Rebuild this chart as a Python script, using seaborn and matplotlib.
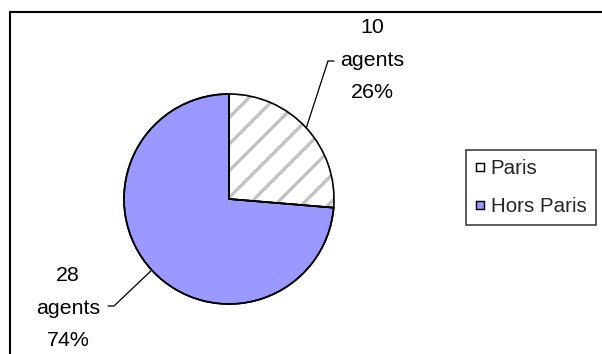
import matplotlib
matplotlib.use("Agg")
import matplotlib.pyplot as plt
from matplotlib.patches import Rectangle, Wedge
from matplotlib.lines import Line2D
import numpy as np
import seaborn as sns

# Répartition des agents
categories = ["Paris", "Hors Paris"]
agents = [10, 28]
percent_labels = ["26%", "74%"]

sns.set_style("white")
plt.rcParams["font.family"] = ["Liberation Sans", "DejaVu Sans"]
plt.rcParams["hatch.color"] = "#c2c2c2"
plt.rcParams["hatch.linewidth"] = 3.0

colors = sns.color_palette(["#ffffff", "#9999ff"])

DPI = 80
W, H = 602, 354
fig = plt.figure(figsize=(W / DPI, H / DPI), dpi=DPI)
fig.patch.set_facecolor("white")

# outer chart frame (runs off the right and bottom edges)
fig.patches.append(Rectangle((9.8 / W, -0.1), 1.2, (H - 12) / H + 0.1,
                             transform=fig.transFigure, fill=False,
                             edgecolor="black", linewidth=1.9, zorder=0))

ax = fig.add_axes([0, 0, 1, 1])
wedges, _ = ax.pie(agents, colors=colors, startangle=90, counterclock=False,
                   radius=1.0, center=(0, 0),
                   wedgeprops=dict(edgecolor="black", linewidth=1.5))

# 105 px per data unit, pie centred at (229, 199) from the top-left corner
R = 105.0
cx, cy = 229.0, H - 199.0
ax.set_xlim(-cx / R, (W - cx) / R)
ax.set_ylim(-cy / R, (H - cy) / R)
ax.set_axis_off()
ax.patch.set_alpha(0)

wedges[0].set_hatch("/")
wedges[0].set_edgecolor("#c2c2c2")
wedges[0].set_linewidth(0)
# black outline on top of the hatched wedge
for w in wedges:
    ax.add_patch(Wedge(w.center, w.r, w.theta1, w.theta2, fill=False,
                       edgecolor="black", linewidth=1.5, zorder=3))

# data labels with leader lines
label_pos = [((372 - cx) / R, (H - 60 - cy) / R),
             ((68 - cx) / R, (H - 308 - cy) / R)]
elbows = [((328 - cx) / R, (H - 61 - cy) / R, (334 - cx) / R),
          ((114 - cx) / R, (H - 306 - cy) / R, (108 - cx) / R)]
for w, n, pct, (tx, ty), (ex, ey, hx) in zip(wedges, agents, percent_labels,
                                             label_pos, elbows):
    mid = np.deg2rad((w.theta1 + w.theta2) / 2)
    px, py = np.cos(mid) * w.r, np.sin(mid) * w.r
    ax.plot([px, ex, hx], [py, ey, ey], color="black", linewidth=1.15,
            solid_joinstyle="miter", zorder=4)
    ax.text(tx, ty, f"{n}\nagents\n{pct}", ha="center", va="center",
            fontsize=19.2, linespacing=1.93, color="black", zorder=5)

handles = [Line2D([], [], linestyle="none", marker="s", markersize=7.2,
                  markerfacecolor=c, markeredgecolor="black",
                  markeredgewidth=1.3) for c in colors]
leg = fig.legend(handles, categories, loc="upper left",
                 bbox_to_anchor=(466 / W, (H - 150) / H),
                 fontsize=18.5, frameon=True, fancybox=False, shadow=False,
                 handlelength=0.45, handletextpad=0.3, labelspacing=0.92,
                 borderpad=0.45, borderaxespad=0.0)
leg.get_frame().set_edgecolor("black")
leg.get_frame().set_linewidth(1.4)

fig.savefig("out.png", dpi=DPI, facecolor="white")
